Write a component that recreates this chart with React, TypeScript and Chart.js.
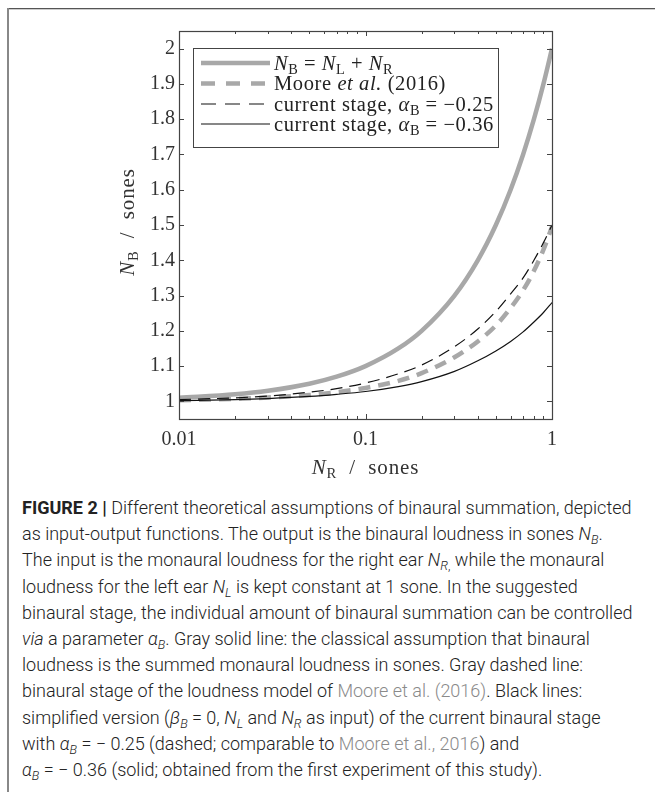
import React, { useEffect, useRef } from "react";
import { Chart, registerables } from "chart.js";
Chart.register(...registerables);

// ---- data ----
const nR = [0.01, 0.02, 0.03, 0.05, 0.07, 0.1, 0.15, 0.2, 0.3, 0.4, 0.5, 0.6, 0.7, 0.8, 0.9, 1.0];
const classicalSum = [1.01, 1.02, 1.03, 1.05, 1.07, 1.1, 1.15, 1.2, 1.3, 1.4, 1.5, 1.6, 1.7, 1.8, 1.9, 2.0];
const moore2016 = [1.003, 1.007, 1.011, 1.018, 1.026, 1.038, 1.058, 1.08, 1.125, 1.17, 1.215, 1.265, 1.315, 1.37, 1.43, 1.495];
const currentA025 = [1.005, 1.01, 1.015, 1.026, 1.036, 1.052, 1.078, 1.103, 1.155, 1.205, 1.255, 1.305, 1.35, 1.4, 1.45, 1.5];
const currentA036 = [1.002, 1.005, 1.008, 1.014, 1.02, 1.028, 1.042, 1.056, 1.085, 1.115, 1.143, 1.17, 1.197, 1.225, 1.252, 1.28];

const xTickValues = [0.01, 0.1, 1];
const xTickLabels = ["0.01", "0.1", "1"];
const yTickValues = [1, 1.1, 1.2, 1.3, 1.4, 1.5, 1.6, 1.7, 1.8, 1.9, 2];
const yTickLabels = ["1", "1.1", "1.2", "1.3", "1.4", "1.5", "1.6", "1.7", "1.8", "1.9", "2"];

const GRAY = "rgb(168,168,168)";
const BLACK = "#111";
const AXIS = "#444";
const SERIF = '"Liberation Serif", "Times New Roman", serif';

type Seg = { t: string; it?: boolean; sub?: boolean };

function setFont(ctx: CanvasRenderingContext2D, s: Seg, size: number, ls: number) {
  const fs = s.sub ? size * 0.7 : size;
  ctx.font = `${s.it ? "italic " : ""}${fs}px ${SERIF}`;
  (ctx as any).letterSpacing = `${s.sub ? ls * 0.6 : ls}px`;
}

function richWidth(ctx: CanvasRenderingContext2D, segs: Seg[], size: number, ls: number) {
  let w = 0;
  for (const s of segs) {
    setFont(ctx, s, size, ls);
    w += ctx.measureText(s.t).width;
  }
  return w;
}

function drawRich(ctx: CanvasRenderingContext2D, segs: Seg[], x: number, y: number, size: number, ls: number) {
  let cx = x;
  for (const s of segs) {
    setFont(ctx, s, size, ls);
    ctx.fillText(s.t, cx, s.sub ? y + size * 0.2 : y);
    cx += ctx.measureText(s.t).width;
  }
  (ctx as any).letterSpacing = "0px";
}

const legendItems: { segs: Seg[]; color: string; width: number; dash: number[] }[] = [
  {
    segs: [
      { t: "N", it: true }, { t: "B", sub: true }, { t: " = " },
      { t: "N", it: true }, { t: "L", sub: true }, { t: " + " },
      { t: "N", it: true }, { t: "R", sub: true },
    ],
    color: GRAY, width: 4.5, dash: [],
  },
  {
    segs: [{ t: "Moore " }, { t: "et al.", it: true }, { t: " (2016)" }],
    color: GRAY, width: 4.5, dash: [14, 11],
  },
  {
    segs: [{ t: "current stage, " }, { t: "α", it: true }, { t: "B", sub: true }, { t: " = −0.25" }],
    color: BLACK, width: 1.2, dash: [15, 9],
  },
  {
    segs: [{ t: "current stage, " }, { t: "α", it: true }, { t: "B", sub: true }, { t: " = −0.36" }],
    color: BLACK, width: 1.2, dash: [],
  },
];

const decorPlugin = {
  id: "decor",
  afterDatasetsDraw(chart: any) {
    const ctx: CanvasRenderingContext2D = chart.ctx;
    const { left, right, top, bottom } = chart.chartArea;
    const xs = chart.scales.x;
    const ys = chart.scales.y;
    ctx.save();
    // frame
    ctx.strokeStyle = AXIS;
    ctx.lineWidth = 1.2;
    ctx.setLineDash([]);
    ctx.strokeRect(Math.round(left) + 0.5, Math.round(top) + 0.5, Math.round(right - left), Math.round(bottom - top));
    // x ticks (inward, both sides)
    ctx.lineWidth = 1;
    for (let d = -2; d <= 0; d++) {
      for (let k = 1; k <= 9; k++) {
        const v = k * Math.pow(10, d);
        if (v > 1.0001) break;
        const px = Math.round(xs.getPixelForValue(v)) + 0.5;
        const len = k === 1 ? 5 : 3;
        ctx.beginPath();
        ctx.moveTo(px, bottom);
        ctx.lineTo(px, bottom - len);
        ctx.moveTo(px, top);
        ctx.lineTo(px, top + len);
        ctx.stroke();
      }
    }
    // y ticks
    for (const v of yTickValues) {
      const py = Math.round(ys.getPixelForValue(v)) + 0.5;
      ctx.beginPath();
      ctx.moveTo(left, py);
      ctx.lineTo(left + 5, py);
      ctx.moveTo(right, py);
      ctx.lineTo(right - 5, py);
      ctx.stroke();
    }
    // legend
    const lx0 = 193, ly0 = 48, lx1 = 498, ly1 = 147;
    ctx.fillStyle = "#fff";
    ctx.fillRect(lx0, ly0, lx1 - lx0, ly1 - ly0);
    ctx.strokeStyle = AXIS;
    ctx.lineWidth = 1;
    ctx.strokeRect(lx0 + 0.5, ly0 + 0.5, lx1 - lx0, ly1 - ly0);
    const rows = [63, 83.5, 104, 124];
    legendItems.forEach((it, i) => {
      const y = rows[i];
      ctx.strokeStyle = it.color;
      ctx.lineWidth = it.width;
      ctx.setLineDash(it.dash);
      ctx.beginPath();
      ctx.moveTo(201, y);
      ctx.lineTo(270, y);
      ctx.stroke();
      ctx.setLineDash([]);
      ctx.fillStyle = "#222";
      ctx.textBaseline = "alphabetic";
      ctx.textAlign = "left";
      drawRich(ctx, it.segs, 274, y + 6.5, 20.5, 0.6);
    });
    // axis titles
    ctx.fillStyle = "#333";
    const xt: Seg[] = [{ t: "N", it: true }, { t: "R", sub: true }, { t: "  /  sones" }];
    const xw = richWidth(ctx, xt, 21, 0.9);
    drawRich(ctx, xt, (left + right) / 2 - xw / 2, 474, 21, 0.9);
    const yt: Seg[] = [{ t: "N", it: true }, { t: "B", sub: true }, { t: "  /  sones" }];
    const yw = richWidth(ctx, yt, 21, 0.9);
    ctx.translate(134, (top + bottom) / 2 - 3);
    ctx.rotate(-Math.PI / 2);
    drawRich(ctx, yt, -yw / 2, 0, 21, 0.9);
    ctx.restore();
  },
};

function ChartView() {
  const ref = useRef<HTMLCanvasElement | null>(null);
  useEffect(() => {
    if (!ref.current) return;
    const mk = (ys: number[]) => nR.map((x, i) => ({ x, y: ys[i] }));
    const chart = new Chart(ref.current, {
      type: "line",
      data: {
        datasets: [
          { label: "NB = NL + NR", data: mk(classicalSum), borderColor: GRAY, borderWidth: 4.5, pointRadius: 0, cubicInterpolationMode: "monotone", order: 3 },
          { label: "Moore et al. (2016)", data: mk(moore2016), borderColor: GRAY, borderWidth: 4.5, borderDash: [12, 8], pointRadius: 0, cubicInterpolationMode: "monotone", order: 2 },
          { label: "current stage, αB = −0.25", data: mk(currentA025), borderColor: BLACK, borderWidth: 1.2, borderDash: [12, 7], pointRadius: 0, cubicInterpolationMode: "monotone", order: 1 },
          { label: "current stage, αB = −0.36", data: mk(currentA036), borderColor: BLACK, borderWidth: 1.2, pointRadius: 0, cubicInterpolationMode: "monotone", order: 0 },
        ],
      } as any,
      options: {
        animation: false,
        responsive: false,
        events: [],
        layout: { padding: { top: 31, right: 103, left: 0, bottom: 0 } },
        plugins: { legend: { display: false }, tooltip: { enabled: false } },
        scales: {
          x: {
            type: "logarithmic",
            min: 0.01,
            max: 1,
            grid: { display: false, drawTicks: false },
            border: { display: false },
            afterBuildTicks: (s: any) => { s.ticks = xTickValues.map((v) => ({ value: v })); },
            afterFit: (s: any) => { s.height = 76; },
            ticks: {
              autoSkip: false,
              maxRotation: 0,
              padding: 9,
              color: "#333",
              font: { family: SERIF, size: 20 },
              callback: (v: any) => xTickLabels[xTickValues.indexOf(Number(v))] ?? "",
            },
          },
          y: {
            type: "linear",
            min: 0.95,
            max: 2.05,
            grid: { display: false, drawTicks: false },
            border: { display: false },
            afterBuildTicks: (s: any) => { s.ticks = yTickValues.map((v) => ({ value: v })); },
            afterFit: (s: any) => { s.width = 179; },
            ticks: {
              autoSkip: false,
              padding: 4,
              color: "#333",
              font: { family: SERIF, size: 20 },
              callback: (v: any) => {
                const i = yTickValues.findIndex((t) => Math.abs(t - Number(v)) < 1e-6);
                return i >= 0 ? yTickLabels[i] : "";
              },
            },
          },
        },
      } as any,
      plugins: [decorPlugin],
    });
    return () => chart.destroy();
  }, []);
  return <canvas ref={ref} width={655} height={495} style={{ position: "absolute", left: 0, top: 0, width: 655, height: 495 }} />;
}

const sub = (s: string, extra?: string) => (
  <sub style={{ fontSize: "0.7em", verticalAlign: "-0.3em", lineHeight: 0 }}>
    <i>{s}</i>
    {extra}
  </sub>
);
const link = { color: "#8a8a8a" };

function Caption() {
  const lines: React.ReactNode[] = [
    <>
      <b style={{ fontWeight: 700 }}>FIGURE 2 |</b> Different theoretical assumptions of binaural summation, depicted
    </>,
    <>as input-output functions. The output is the binaural loudness in sones <i>N</i>{sub("B")}.</>,
    <>The input is the monaural loudness for the right ear <i>N</i>{sub("R", ",")} while the monaural</>,
    <>loudness for the left ear <i>N</i>{sub("L")} is kept constant at 1 sone. In the suggested</>,
    <>binaural stage, the individual amount of binaural summation can be controlled</>,
    <><i>via</i> a parameter <i>α</i>{sub("B")}. Gray solid line: the classical assumption that binaural</>,
    <>loudness is the summed monaural loudness in sones. Gray dashed line:</>,
    <>binaural stage of the loudness model of <span style={link}>Moore et al. (2016)</span>. Black lines:</>,
    <>simplified version (<i>β</i>{sub("B")} = 0, <i>N</i>{sub("L")} and <i>N</i>{sub("R")} as input) of the current binaural stage</>,
    <>with <i>α</i>{sub("B")} = − 0.25 (dashed; comparable to <span style={link}>Moore et al., 2016</span>) and</>,
    <><i>α</i>{sub("B")} = − 0.36 (solid; obtained from the first experiment of this study).</>,
  ];
  return (
    <div
      style={{
        position: "absolute",
        left: 22,
        top: 495,
        fontFamily: 'Roboto, "Liberation Sans", sans-serif',
        fontWeight: 300,
        fontSize: 18,
        lineHeight: "26.2px",
        color: "#222",
      }}
    >
      {lines.map((l, i) => (
        <div key={i} style={{ whiteSpace: "nowrap" }}>
          {l}
        </div>
      ))}
    </div>
  );
}

export default function App() {
  return (
    <div style={{ position: "fixed", left: 0, top: 0, width: 655, height: 792, background: "#fff", overflow: "hidden" }}>
      <div style={{ position: "absolute", left: 7, top: 8, width: 648, height: 1, background: "#555" }} />
      <div style={{ position: "absolute", left: 7, top: 9, width: 648, height: 1, background: "#ccc" }} />
      <div style={{ position: "absolute", left: 7, top: 8, width: 2, height: 784, background: "#888" }} />
      <ChartView />
      <Caption />
    </div>
  );
}
